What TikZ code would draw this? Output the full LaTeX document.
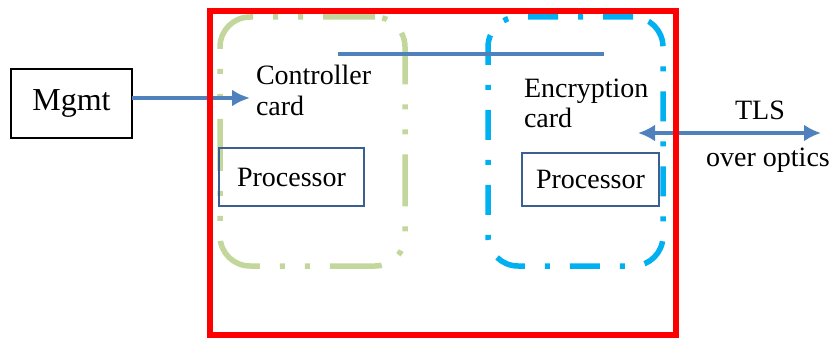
\documentclass[tikz,border=0pt]{standalone}
\usepackage{fontspec}
\setmainfont{Liberation Serif}
\usetikzlibrary{arrows.meta,positioning}

\definecolor{chassisred}{HTML}{FF0000}
\definecolor{ctrlgreen}{HTML}{C3D69B}
\definecolor{cryptcyan}{HTML}{00B0F0}
\definecolor{linkblue}{HTML}{4F81BD}
\definecolor{procblue}{HTML}{3C5F91}

\begin{document}
\begin{tikzpicture}[
    % one unit is one pixel of the reference
    x=1pt, y=-1pt,
    % general settings
    font=\fontsize{28}{30.5}\selectfont,
    % nodes
    base/.style={rectangle, inner sep=0pt, outer sep=0pt},
    chassis/.style={base, draw=chassisred, line width=6pt, minimum width=466pt, minimum height=324pt},
    card/.style={base, rounded corners=30pt, line width=5.5pt, minimum height=249pt},
    ctrlcard/.style={card, draw=ctrlgreen, minimum width=185pt,
                     dash pattern=on 52pt off 20pt on 5pt off 20pt on 5pt off 20pt},
    cryptcard/.style={card, draw=cryptcyan, minimum width=175pt,
                      dash pattern=on 30pt off 20pt on 5pt off 20pt},
    proc/.style={base, draw=procblue, line width=2.8pt},
    cardtext/.style={base, align=left, anchor=north west},
    mgmtbox/.style={base, draw=black, line width=1.4pt, minimum width=121pt, minimum height=69pt,
                    font=\fontsize{32}{36}\selectfont},
    % arrows
    link/.style={linkblue, line width=4.5pt},
    onetip/.style={-{Latex[length=18pt,width=17pt]}},
    twotips/.style={{Latex[length=17pt,width=17pt]}-{Latex[length=17pt,width=17pt]}}
  ]

  \useasboundingbox (0,0) rectangle (834,337);

  % cards
  \node (ctrlcard)   [ctrlcard]  at (312.5,141.5) {};
  \node (cryptcard)  [cryptcard] at (575.5,141.5) {};

  \node (ctrltext)   [cardtext]  at (256,65.5)    {Controller\\card};
  \node (crypttext)  [cardtext]  at (524,78.5)    {Encryption\\card};

  \node (ctrlproc)   [proc, minimum width=145pt, minimum height=58pt] at (291.5,177) {Processor};
  \node (cryptproc)  [proc, minimum width=137pt, minimum height=53pt] at (590.5,179.5) {Processor};

  % outside
  \node (mgmt)       [mgmtbox]   at (71.5,103.5)  {Mgmt};
  \node (tls)        [base, anchor=base] at (760,119) {TLS};
  \node (optics)     [base, anchor=base] at (768,166) {over optics};

  \coordinate (busstart) at (338,54);
  \coordinate (busend)   at (604,54);
  \coordinate (ctrlin)   at (250,98);
  \coordinate (tlsleft)  at (638,133);
  \coordinate (tlsright) at (821,133);

  % links
  \draw[link]          (busstart)            -- (busend);
  \draw[link, onetip]  (mgmt.east |- ctrlin) -- (ctrlin);
  \draw[link, twotips] (tlsleft)             -- (tlsright);

  % chassis on top
  \node (chassis)    [chassis]   at (443,173)     {};
\end{tikzpicture}
\end{document}
